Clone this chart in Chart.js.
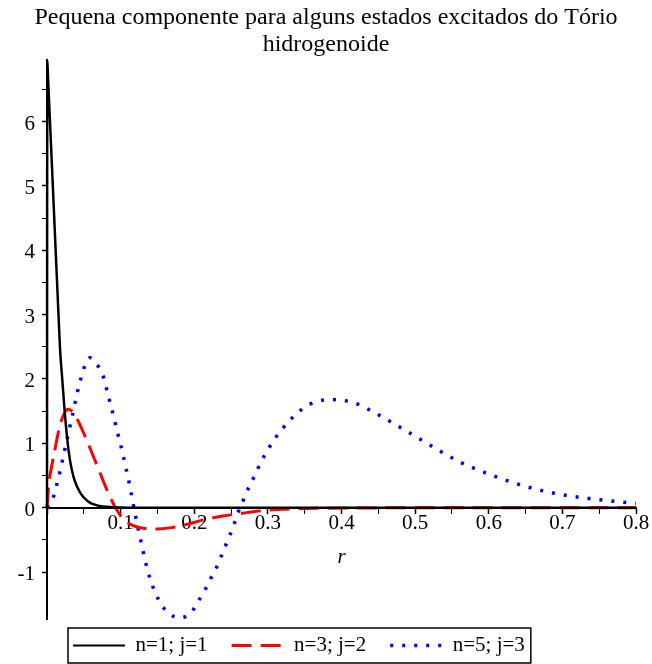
<!DOCTYPE html>
<html>
<head>
<meta charset="utf-8">
<script src="https://cdn.jsdelivr.net/npm/chart.js@4/dist/chart.umd.min.js"></script>
<style>
  html, body { margin: 0; padding: 0; background: #fff; }
  #wrap { width: 652px; height: 664px; }
</style>
</head>
<body>
<div id="wrap"><canvas id="c" width="652" height="664"></canvas></div>
<script>
// Small component of some excited states of hydrogen-like thorium
const titleLines = ['Pequena componente para alguns estados excitados do Tório', 'hidrogenoide'];
const seriesLabels = ['n=1; j=1', 'n=3; j=2', 'n=5; j=3'];
const xAxisLabel = 'r';

// n=1; j=1
const rBlack = [0, 0.0004, 0.0012, 0.008, 0.0167, 0.0178, 0.0207, 0.024, 0.0273, 0.0315, 0.037, 0.045, 0.055, 0.07, 0.085, 0.1, 0.13, 0.8];
const yBlack = [0, 6.95, 6.74, 4.98, 2.72, 2.45, 2.0, 1.5, 1.09, 0.72, 0.44, 0.235, 0.105, 0.03, 0.01, 0.003, 0, 0];

// n=3; j=2
const rRed = [0, 0.0025, 0.006, 0.011, 0.016, 0.021, 0.0285, 0.035, 0.039, 0.049, 0.06, 0.071, 0.082, 0.092, 0.103, 0.117, 0.131, 0.149, 0.169, 0.19, 0.212, 0.239, 0.266, 0.298, 0.33, 0.37, 0.45, 0.55, 0.8];
const yRed = [0, 0.38, 0.62, 0.92, 1.2, 1.40, 1.53, 1.49, 1.42, 1.18, 0.88, 0.57, 0.26, 0.02, -0.17, -0.28, -0.32, -0.33, -0.31, -0.26, -0.19, -0.13, -0.085, -0.04, -0.02, -0.01, -0.003, 0, 0];

// n=5; j=3
const rBlue = [0, 0.0088, 0.0133, 0.0174, 0.0205, 0.0239, 0.028, 0.0313, 0.0348, 0.0376,
  0.0412, 0.0446, 0.05, 0.0545, 0.058, 0.0667, 0.0758, 0.083, 0.0876, 0.0915,
  0.0955, 0.0995, 0.1035, 0.107, 0.1105, 0.1135, 0.118, 0.1215, 0.125, 0.1287,
  0.1325, 0.1365, 0.141, 0.147, 0.155, 0.164, 0.18, 0.195, 0.205, 0.214,
  0.221, 0.229, 0.234, 0.241, 0.248, 0.254, 0.259, 0.265, 0.271, 0.278,
  0.285, 0.2915, 0.2995, 0.308, 0.318, 0.329, 0.354, 0.386, 0.417, 0.446,
  0.475, 0.503, 0.531, 0.559, 0.589, 0.62, 0.65, 0.682, 0.714, 0.746,
  0.778, 0.8];
const yBlue = [0, 0.17, 0.36, 0.55, 0.71, 0.89, 1.1, 1.27, 1.45, 1.6,
  1.79, 1.95, 2.16, 2.29, 2.33, 2.24, 2.06, 1.75, 1.55, 1.37,
  1.18, 1.0, 0.81, 0.63, 0.45, 0.27, 0, -0.2, -0.39, -0.58,
  -0.78, -0.97, -1.14, -1.32, -1.5, -1.63, -1.71, -1.64, -1.46, -1.29,
  -1.13, -0.96, -0.83, -0.63, -0.44, -0.26, -0.09, 0.07, 0.24, 0.40,
  0.57, 0.73, 0.89, 1.05, 1.20, 1.35, 1.59, 1.68, 1.63, 1.47,
  1.28, 1.09, 0.90, 0.72, 0.57, 0.44, 0.33, 0.24, 0.175, 0.13,
  0.09, 0.065];

const toPoints = (xs, ys) => xs.map((x, i) => ({ x: x, y: ys[i] }));

const SERIF = "'Liberation Serif', 'Times New Roman', serif";
const isMultiple = (v, step) => Math.abs(v / step - Math.round(v / step)) < 1e-6;

// Places the legend row under the plot and draws the box around it
const legendFrame = {
  id: 'legendFrame',
  afterLayout(chart) {
    const lg = chart.legend;
    if (!lg) return;
    const pad = lg.options.labels.padding;
    const h = lg.height;
    lg.top = 635 - pad;
    lg.bottom = lg.top + h;
    lg.left = 73 - pad;
    lg.right = 652;
  },
  afterDraw(chart) {
    const lg = chart.legend;
    if (!lg || !lg.legendHitBoxes || !lg.legendHitBoxes.length) return;
    const hb = lg.legendHitBoxes;
    const first = hb[0], last = hb[hb.length - 1];
    const x0 = first.left - 5, x1 = last.left + last.width + 6;
    const y0 = first.top - 7, y1 = first.top + first.height + 7;
    const ctx = chart.ctx;
    ctx.save();
    ctx.strokeStyle = '#000';
    ctx.lineWidth = 1.5;
    ctx.strokeRect(x0, y0, x1 - x0, y1 - y0);
    ctx.restore();
  }
};

new Chart(document.getElementById('c'), {
  type: 'line',
  data: {
    datasets: [
      {
        label: seriesLabels[0],
        data: toPoints(rBlack, yBlack),
        borderColor: '#000000',
        backgroundColor: '#000000',
        borderWidth: 2.5,
        cubicInterpolationMode: 'monotone',
        pointRadius: 0,
        fill: false,
        clip: 4
      },
      {
        label: seriesLabels[1],
        data: toPoints(rRed, yRed),
        borderColor: '#ff0000',
        backgroundColor: '#ff0000',
        borderWidth: 3,
        borderDash: [20, 9],
        cubicInterpolationMode: 'monotone',
        pointRadius: 0,
        fill: false,
        clip: 4
      },
      {
        label: seriesLabels[2],
        data: toPoints(rBlue, yBlue),
        borderColor: '#0000ff',
        backgroundColor: '#0000ff',
        borderWidth: 3.5,
        borderDash: [3, 9],
        cubicInterpolationMode: 'monotone',
        pointRadius: 0,
        fill: false,
        clip: 4
      }
    ]
  },
  options: {
    responsive: false,
    animation: false,
    devicePixelRatio: 1,
    layout: { padding: 0 },
    plugins: {
      title: {
        display: true,
        text: titleLines,
        color: '#000',
        font: { family: SERIF, size: 24, weight: 'normal', lineHeight: 1.1 },
        padding: { top: 5, bottom: 2 }
      },
      legend: {
        display: true,
        position: 'bottom',
        align: 'start',
        maxHeight: 45,
        labels: {
          usePointStyle: true,
          pointStyle: 'line',
          pointStyleWidth: 52,
          padding: 24,
          color: '#000',
          font: { family: SERIF, size: 21 },
          // line samples take the dash pattern and colour of their dataset
          generateLabels: (chart) => {
            const items = Chart.defaults.plugins.legend.labels.generateLabels(chart);
            items.forEach((it) => {
              const ds = chart.data.datasets[it.datasetIndex];
              it.lineDash = ds.borderDash || [];
              it.lineWidth = it.datasetIndex === 0 ? 2 : ds.borderWidth;
              it.strokeStyle = ds.borderColor;
              it.pointStyle = 'line';
            });
            return items;
          }
        }
      },
      tooltip: { enabled: false }
    },
    scales: {
      x: {
        type: 'linear',
        position: { y: 0 },
        min: 0,
        max: 0.8,
        afterFit: (scale) => { scale.paddingRight = 16; },
        border: { display: true, color: '#000', width: 2 },
        grid: {
          display: true,
          drawOnChartArea: false,
          drawTicks: true,
          tickLength: 5,
          tickColor: '#000',
          tickWidth: (ctx) => (ctx.tick && isMultiple(ctx.tick.value, 0.1) ? 1.5 : 1)
        },
        ticks: {
          stepSize: 0.05,
          autoSkip: false,
          maxRotation: 0,
          padding: 0,
          color: '#000',
          font: { family: SERIF, size: 21, lineHeight: 1 },
          callback: (v) => (v > 0 && isMultiple(v, 0.1) ? v.toFixed(1) : '')
        },
        title: {
          display: true,
          text: xAxisLabel,
          color: '#000',
          font: { family: SERIF, size: 21, style: 'italic' },
          padding: { top: 11, bottom: 4 }
        }
      },
      y: {
        type: 'linear',
        position: 'left',
        min: -1.73,
        max: 6.96,
        afterBuildTicks: (scale) => {
          scale.ticks = scale.ticks.filter((t) => isMultiple(t.value, 0.5));
        },
        afterFit: (scale) => { scale.width = 47; },
        border: { display: true, color: '#000', width: 2 },
        grid: {
          display: true,
          drawOnChartArea: false,
          drawTicks: true,
          tickLength: 5,
          tickColor: '#000',
          tickWidth: (ctx) => (ctx.tick && isMultiple(ctx.tick.value, 1) ? 1.5 : 1)
        },
        ticks: {
          stepSize: 0.5,
          autoSkip: false,
          padding: 7,
          labelOffset: 2.5,
          color: '#000',
          font: { family: SERIF, size: 21, lineHeight: 1 },
          callback: (v) => (isMultiple(v, 1) ? String(Math.round(v)) : '')
        }
      }
    }
  },
  plugins: [legendFrame]
});
</script>
</body>
</html>
